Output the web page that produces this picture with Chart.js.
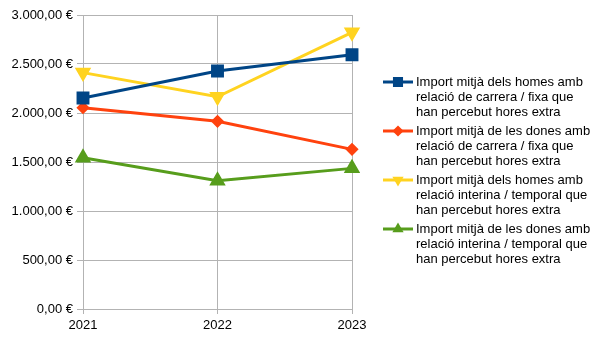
<!DOCTYPE html>
<html>
<head>
<meta charset="utf-8">
<script src="https://cdn.jsdelivr.net/npm/chart.js@4/dist/chart.umd.min.js"></script>
<style>
  html, body { margin: 0; padding: 0; background: #ffffff; }
  #wrap { width: 605px; height: 340px; position: relative; }
</style>
</head>
<body>
<div id="wrap"><canvas id="c" width="605" height="340"></canvas></div>
<script>
// Years on the horizontal axis
const years = ['2021', '2022', '2023'];

// Average overtime pay (€) per group
const homesFixa = [2153, 2429, 2595];
const donesFixa = [2054, 1915, 1629];
const homesInterina = [2412, 2166, 2823];
const donesInterina = [1544, 1309, 1435];

// Legend text, one line per entry row
const labelHomesFixa = ['Import mitjà dels homes amb', 'relació de carrera / fixa que', 'han percebut hores extra'];
const labelDonesFixa = ['Import mitjà de les dones amb', 'relació de carrera / fixa que', 'han percebut hores extra'];
const labelHomesInterina = ['Import mitjà dels homes amb', 'relació interina / temporal que', 'han percebut hores extra'];
const labelDonesInterina = ['Import mitjà de les dones amb', 'relació interina / temporal que', 'han percebut hores extra'];

const FONT = '"Liberation Sans", Arial, sans-serif';

function euro(v) {
  const fixed = Math.abs(v).toFixed(2).split('.');
  const ints = fixed[0].replace(/\B(?=(\d{3})+(?!\d))/g, '.');
  return (v < 0 ? '-' : '') + ints + ',' + fixed[1] + ' €';
}

function series(label, data, color, style, rotation, radius) {
  return {
    label: label,
    data: data,
    borderColor: color,
    backgroundColor: color,
    pointBackgroundColor: color,
    pointBorderColor: color,
    borderWidth: 3,
    pointStyle: style,
    rotation: rotation,
    pointRadius: radius,
    pointHoverRadius: radius,
    tension: 0
  };
}

// Legend drawn at the right with wrapped text and a line+marker sample
const sideLegend = {
  id: 'sideLegend',
  afterDraw(chart) {
    const ctx = chart.ctx;
    const x0 = 383, x1 = 413, tx = 416;
    const lineH = 15;
    const startY = 82;
    const gap = 49;
    ctx.save();
    chart.data.datasets.forEach((ds, i) => {
      const y = startY + i * gap;
      ctx.strokeStyle = ds.borderColor;
      ctx.lineWidth = 3;
      ctx.beginPath();
      ctx.moveTo(x0, y);
      ctx.lineTo(x1, y);
      ctx.stroke();
      Chart.helpers.drawPoint(ctx, {
        pointStyle: ds.pointStyle,
        rotation: ds.rotation,
        radius: ds.pointStyle === 'rect' ? 5 : 3.5,
        borderWidth: 1
      }, (x0 + x1) / 2, y);
      ctx.fillStyle = ds.borderColor;
      ctx.fill();
      ctx.fillStyle = '#000000';
      ctx.font = '13px ' + FONT;
      ctx.textAlign = 'left';
      ctx.textBaseline = 'middle';
      ds.label.forEach((t, k) => ctx.fillText(t, tx, y + k * lineH));
    });
    ctx.restore();
  }
};

new Chart(document.getElementById('c'), {
  type: 'line',
  data: {
    labels: years,
    datasets: [
      series(labelHomesFixa, homesFixa, '#004586', 'rect', 0, 7),
      series(labelDonesFixa, donesFixa, '#ff420e', 'rectRot', 0, 4.5),
      series(labelHomesInterina, homesInterina, '#ffd320', 'triangle', 180, 6.5),
      series(labelDonesInterina, donesInterina, '#579d1c', 'triangle', 0, 6.5)
    ]
  },
  options: {
    responsive: false,
    animation: false,
    devicePixelRatio: 1,
    layout: { padding: { top: 15, right: 253, left: 0, bottom: 0 } },
    plugins: {
      legend: { display: false },
      tooltip: { enabled: false }
    },
    scales: {
      x: {
        offset: false,
        grid: { color: '#b3b3b3', lineWidth: 1, tickLength: 5, drawTicks: true },
        border: { color: '#b3b3b3' },
        ticks: { color: '#000000', font: { family: FONT, size: 13 }, padding: 4, maxRotation: 0 },
        afterFit(s) { s.height = 31; }
      },
      y: {
        min: 0,
        max: 3000,
        grid: { color: '#b3b3b3', lineWidth: 1, tickLength: 6, drawTicks: true },
        border: { color: '#b3b3b3' },
        ticks: {
          stepSize: 500,
          color: '#000000',
          font: { family: FONT, size: 13 },
          padding: 4,
          callback: (v) => euro(v)
        },
        afterFit(s) { s.width = 83; }
      }
    }
  },
  plugins: [sideLegend]
});
</script>
</body>
</html>
